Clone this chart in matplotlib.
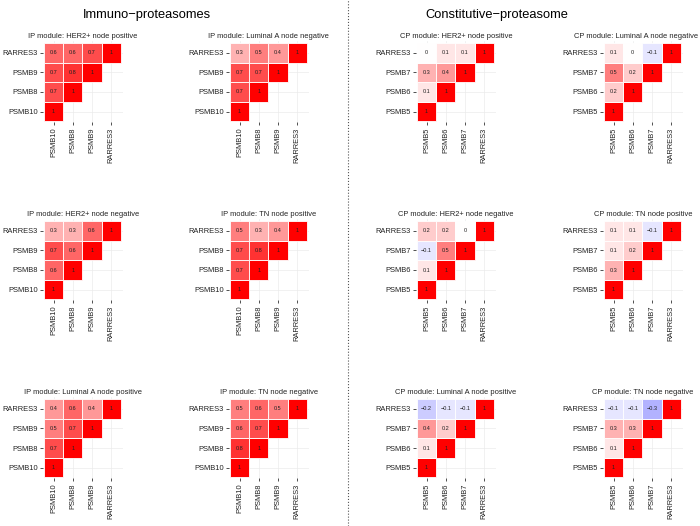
"""
correlation heatmaps of proteasome subunits, IP vs CP modules
"""

import numpy as np
import matplotlib.pyplot as plt
from matplotlib.colors import LinearSegmentedColormap
from matplotlib.lines import Line2D

plt.rcParams['font.family'] = ['Liberation Sans', 'DejaVu Sans']

## data

ip_genes = ['PSMB10', 'PSMB8', 'PSMB9', 'RARRES3']
cp_genes = ['PSMB5', 'PSMB6', 'PSMB7', 'RARRES3']

# lower triangle, rows from 2nd gene up to RARRES3 (diagonal = 1)
ip_her2_pos = [[0.7], [0.7, 0.8], [0.6, 0.6, 0.7]]
ip_luma_neg = [[0.7], [0.7, 0.7], [0.3, 0.5, 0.4]]
ip_her2_neg = [[0.6], [0.7, 0.6], [0.3, 0.3, 0.6]]
ip_tn_pos = [[0.7], [0.7, 0.8], [0.5, 0.3, 0.4]]
ip_luma_pos = [[0.7], [0.5, 0.7], [0.4, 0.6, 0.4]]
ip_tn_neg = [[0.8], [0.6, 0.7], [0.5, 0.6, 0.5]]

cp_her2_pos = [[0.1], [0.3, 0.4], [0, 0.1, 0.1]]
cp_luma_neg = [[0.2], [0.5, 0.2], [0.1, 0, -0.1]]
cp_her2_neg = [[0.1], [-0.1, 0.5], [0.2, 0.2, 0]]
cp_tn_pos = [[0.3], [0.1, 0.2], [0.1, 0.1, -0.1]]
cp_luma_pos = [[0.1], [0.4, 0.2], [-0.2, -0.1, -0.1]]
cp_tn_neg = [[0.1], [0.3, 0.3], [-0.1, -0.1, -0.3]]

panels = [
    # (title, genes, values, column, row)
    ('IP module: HER2+ node positive', ip_genes, ip_her2_pos, 0, 0),
    ('IP module: Luminal A node negative', ip_genes, ip_luma_neg, 1, 0),
    ('CP module: HER2+ node positive', cp_genes, cp_her2_pos, 2, 0),
    ('CP module: Luminal A node negative', cp_genes, cp_luma_neg, 3, 0),
    ('IP module: HER2+ node negative', ip_genes, ip_her2_neg, 0, 1),
    ('IP module: TN node positive', ip_genes, ip_tn_pos, 1, 1),
    ('CP module: HER2+ node negative', cp_genes, cp_her2_neg, 2, 1),
    ('CP module: TN node positive', cp_genes, cp_tn_pos, 3, 1),
    ('IP module: Luminal A node positive', ip_genes, ip_luma_pos, 0, 2),
    ('IP module: TN node negative', ip_genes, ip_tn_neg, 1, 2),
    ('CP module: Luminal A node positive', cp_genes, cp_luma_pos, 2, 2),
    ('CP module: TN node negative', cp_genes, cp_tn_neg, 3, 2),
]

## layout (pixels)

W, H = 700, 526
cell_left = [42, 228, 415, 602]
cell_top = [43, 221, 399]
cw, ch = 19.25, 19.6
xlo, xhi = -0.55, 3.6
ylo, yhi = -0.55, 3.6

cmap = LinearSegmentedColormap.from_list('bwr2', ['#0000FF', '#FFFFFF', '#FF0000'])

fig = plt.figure(figsize=(W/100, H/100), dpi=100)
titles = []

for title, genes, vals, c, r in panels:
    left = cell_left[c] - (xlo + 0.5)*cw
    top = cell_top[r] - (yhi - 3.5)*ch
    w = (xhi - xlo)*cw
    h = (yhi - ylo)*ch
    ax = fig.add_axes([left/W, 1 - (top + h)/H, w/W, h/H])

    # full matrix with diagonal
    mat = {}
    for j in range(4):
        mat[(j, j)] = 1.0
    for j, row in enumerate(vals):
        for i, v in enumerate(row):
            mat[(i, j + 1)] = v

    for (i, j), v in mat.items():
        ax.add_patch(plt.Rectangle((i - 0.5, j - 0.5), 1, 1, facecolor=cmap((v + 1)/2),
                                   edgecolor='white', linewidth=0.6, zorder=2))
        lab = '1' if v == 1 else ('0' if v == 0 else '{:g}'.format(v).replace('-', '\u2212'))
        ax.text(i, j, lab, ha='center', va='center', fontsize=4.0, color='#222222', zorder=3)

    ax.set_xlim(xlo, xhi)
    ax.set_ylim(ylo, yhi)
    ax.set_xticks(range(4))
    ax.set_yticks(range(4))
    ax.set_xticklabels(genes, rotation=90, fontsize=5.4, color='#222222')
    ax.set_yticklabels(genes, fontsize=5.4, color='#222222')
    ax.tick_params(length=2.2, width=0.6, color='#333333', pad=1.5)
    ax.grid(True, color='#EBEBEB', linewidth=0.5, zorder=0)
    ax.set_axisbelow(True)
    for s in ax.spines.values():
        s.set_visible(False)
    t = ax.set_title(title, fontsize=5.4, pad=2.5, color='#222222')
    titles.append((ax, t))

# keep titles inside the right edge
fig.canvas.draw()
renderer = fig.canvas.get_renderer()
for ax, t in titles:
    bb = t.get_window_extent(renderer)
    if bb.x1 > W - 2:
        axbb = ax.get_window_extent(renderer)
        shift = (bb.x1 - (W - 2)) / axbb.width
        t.set_x(0.5 - shift)

fig.text(147/W, 1 - 15/H, 'Immuno\u2212proteasomes', ha='center', va='center', fontsize=9.3)
fig.text(497/W, 1 - 15/H, 'Constitutive\u2212proteasome', ha='center', va='center', fontsize=9.3)

fig.add_artist(Line2D([348/W, 348/W], [0, 1], color='#555555', linestyle=':', linewidth=0.8))

fig.savefig('out.png', dpi=100)
